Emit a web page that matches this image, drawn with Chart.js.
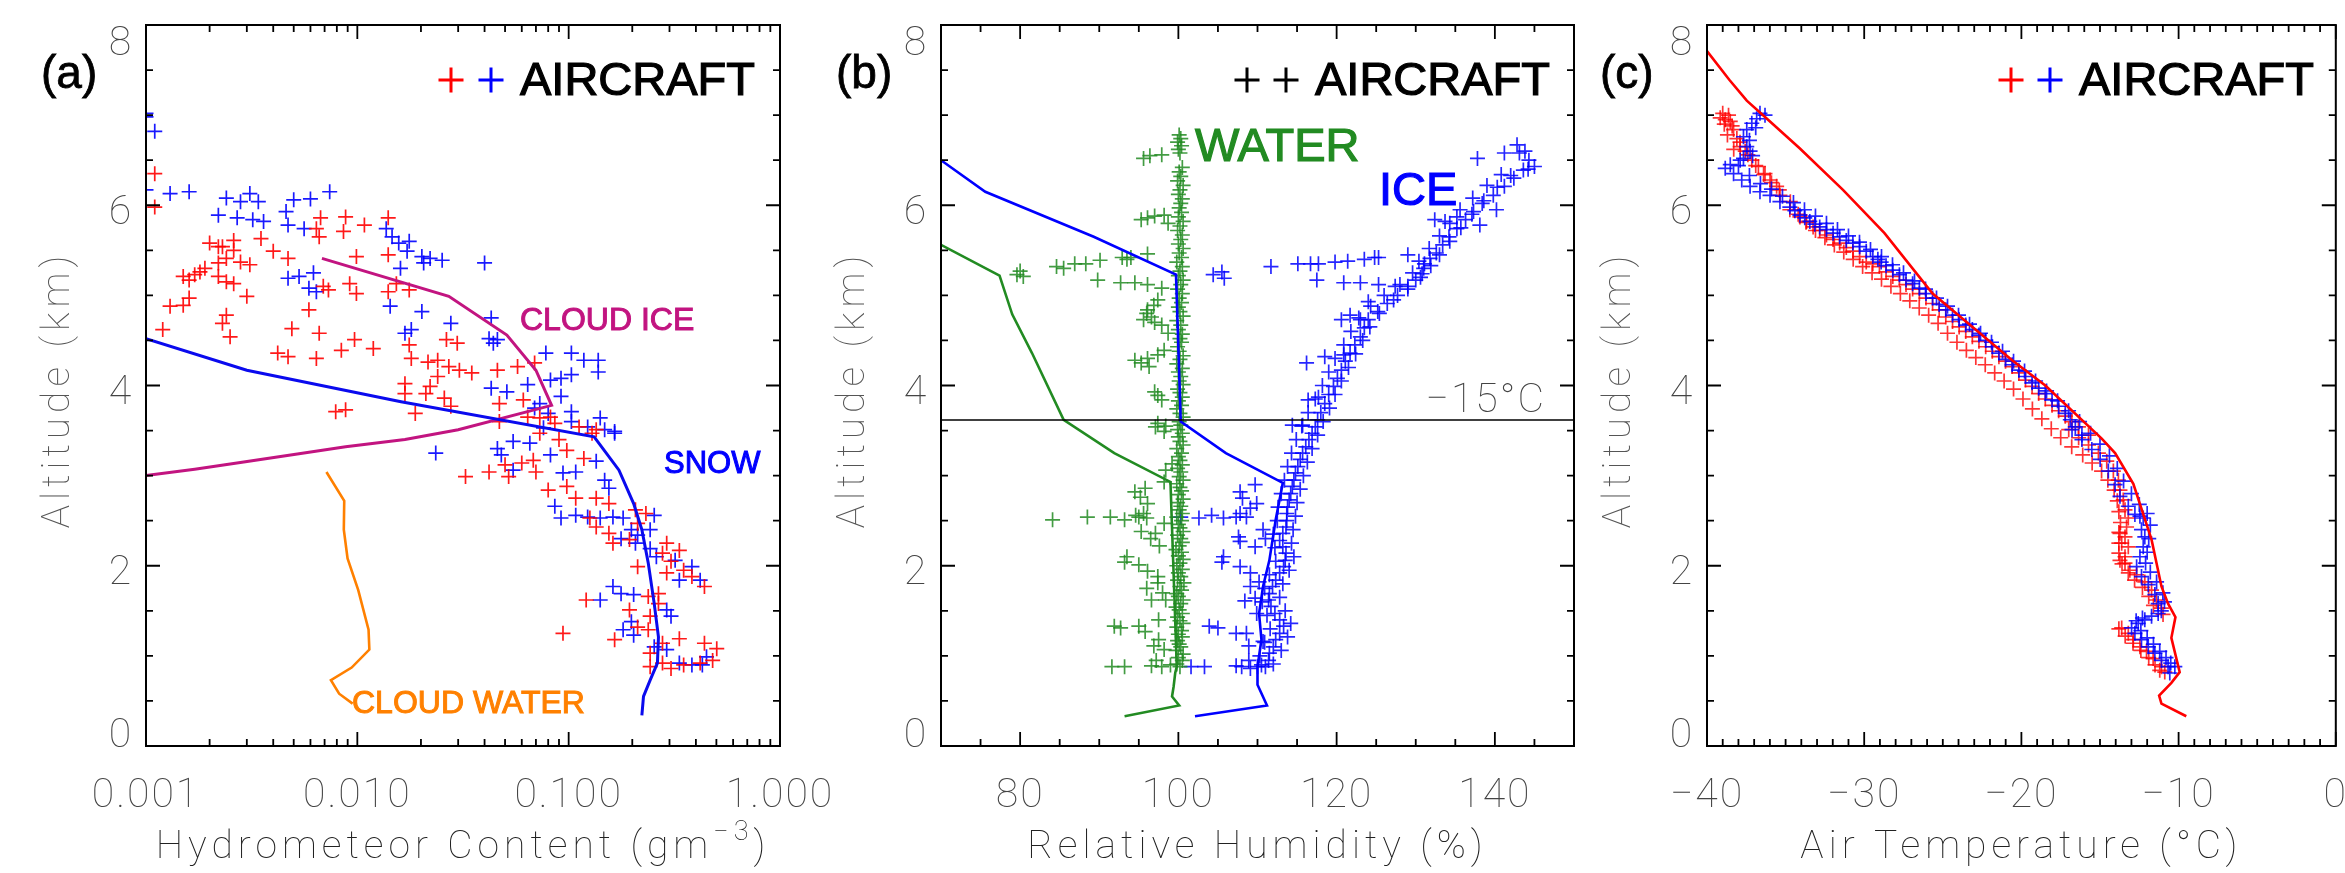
<!DOCTYPE html>
<html>
<head>
<meta charset="utf-8">
<script src="https://cdn.jsdelivr.net/npm/chart.js@4"></script>
<style>
  body { margin: 0; background: #fff; }
  #wrap { position: relative; width: 2345px; height: 873px; }
  #wrap canvas { position: absolute; left: 0; top: 0; }
</style>
</head>
<body>
<div id="wrap">
  <canvas id="pa" width="2345" height="873"></canvas>
  <canvas id="pb" width="2345" height="873"></canvas>
  <canvas id="pc" width="2345" height="873"></canvas>
</div>
<script>
// ---- panel (a): hydrometeor content (g m-3) vs altitude (km)
const aRedX = [0.0011,0.0011,0.0020,0.0022,0.0023,0.0026,0.0026,0.0035,0.0040,0.0047,
  0.0024,0.0028,0.0031,0.0022,0.0019,0.0018,0.0017,0.0015,0.0016,0.0022,
  0.0024,0.0026,0.0030,0.0016,0.0015,0.0013,0.0024,0.0023,0.0025,0.0012,
  0.0059,0.0049,0.0066,0.0097,0.0119,0.0084,0.0042,0.0047,0.0064,0.0069,
  0.0073,0.0092,0.0099,0.0067,0.0064,0.0066,0.0088,0.0086,0.0108,0.0140,
  0.0140,0.0099,0.0140,0.0176,0.0153,0.0176,0.0180,0.0216,0.0240,0.0264,
  0.0297,0.0271,0.0304,0.0240,0.0221,0.0168,0.0168,0.0211,0.0258,0.0277,
  0.0188,0.0079,0.0088,0.0348,0.046,0.0573,0.069,0.047,0.047,0.061,
  0.064,0.073,0.082,0.086,0.112,0.129,0.135,
  0.0325,0.042,0.052,0.070,0.080,0.098,0.108,0.118,0.098,0.090,
  0.068,0.060,0.135,0.155,0.126,0.135,0.155,0.162,0.194,0.207,
  0.212,0.232,0.291,0.278,0.334,0.305,0.350,0.383,0.439,0.291,
  0.266,0.212,0.238,0.266,0.121,0.194,0.243,0.212,0.238,0.094,
  0.165,0.334,0.439,0.502,0.278,0.243,0.278,0.243,0.419,0.480,
  0.350,0.305,0.073,0.050];
const aRedY = [6.35,5.98,5.58,5.54,5.54,5.61,5.50,5.63,5.49,5.41,
  5.41,5.37,5.34,5.36,5.30,5.26,5.23,5.21,5.17,5.21,
  5.15,5.13,4.99,4.97,4.89,4.88,4.78,4.69,4.54,4.62,
  4.84,4.63,4.58,4.51,4.41,4.39,4.36,4.32,4.30,5.10,
  5.06,5.13,5.02,5.86,5.74,5.65,5.87,5.71,5.78,5.86,
  5.45,5.43,5.04,5.06,5.13,4.45,4.30,4.26,4.28,4.51,
  4.47,4.21,4.17,4.10,3.99,4.02,3.91,3.91,3.86,3.77,
  3.69,3.71,3.73,4.14,4.17,4.21,4.25,3.80,3.60,3.84,
  3.65,3.64,3.65,3.58,3.54,3.47,3.51,
  2.99,3.04,2.99,3.04,2.84,2.88,2.75,3.19,3.28,3.40,
  3.17,3.14,2.75,2.69,2.53,2.43,2.36,2.25,2.29,2.62,
  2.47,2.58,2.25,2.14,2.17,2.05,1.95,1.88,1.77,1.92,
  1.69,1.99,1.66,1.58,1.62,1.51,1.44,1.32,1.29,1.25,
  1.18,1.19,1.14,1.08,1.14,1.03,0.92,0.88,0.92,0.95,
  0.90,0.86,3.47,3.12];
const aBlueX = [0.0010,0.0013,0.0016,0.0024,0.0028,0.0031,0.0034,0.0022,0.0027,0.0032,
  0.0036,0.0046,0.0047,0.0050,0.0060,0.0074,0.0056,0.0137,0.0146,0.0157,
  0.0176,0.0172,0.0202,0.0221,0.0252,0.0400,0.0160,0.0206,0.0047,0.0053,
  0.0062,0.0059,0.0064,0.0143,0.0202,0.0180,0.0168,0.0277,0.043,0.042,
  0.046,0.044,0.078,0.103,0.118,0.138,0.138,0.103,0.092,0.082,
  0.064,0.051,0.043,0.073,0.092,0.069,0.080,0.103,0.103,0.141,
  0.123,0.165,0.076,0.0010,0.0011,0.0010,
  0.0235,0.046,0.048,0.0546,0.0655,0.082,0.0546,0.094,0.108,0.135,
  0.148,0.155,0.086,0.092,0.108,0.123,0.141,0.162,0.181,0.198,
  0.212,0.243,0.254,0.177,0.207,0.243,0.260,0.319,0.383,0.419,
  0.334,0.162,0.177,0.203,0.141,0.291,0.305,0.198,0.181,0.203,
  0.254,0.291,0.334,0.383,0.429,0.449,0.148,0.165];
const aBlueY = [6.17,6.13,6.15,6.08,6.04,6.13,6.04,5.89,5.86,5.84,
  5.82,5.93,5.78,6.06,6.07,6.15,5.74,5.74,5.65,5.58,
  5.60,5.49,5.43,5.41,5.39,5.36,5.30,5.36,5.19,5.21,
  5.25,5.08,5.04,4.88,4.82,4.62,4.58,4.69,4.75,4.52,
  4.51,4.47,4.36,4.36,4.28,4.28,4.15,4.12,4.08,4.06,
  4.01,3.93,3.97,3.80,3.88,3.75,3.69,3.71,3.60,3.64,
  3.54,3.47,3.53,6.98,6.82,7.02,
  3.25,3.30,3.23,3.38,3.36,3.23,3.06,3.03,3.04,3.16,
  2.95,2.86,2.66,2.53,2.56,2.54,2.53,2.54,2.53,2.40,
  2.34,2.40,2.56,2.30,2.25,2.19,2.10,2.06,1.99,1.84,
  1.84,1.77,1.69,1.68,1.62,1.51,1.44,1.38,1.29,1.23,
  1.10,1.07,0.92,0.90,0.90,0.99,3.51,3.49];
const snowX = [0.001,0.0030,0.0161,0.132,0.173,0.203,0.222,0.238,0.254,0.266,0.263,0.243,0.226,0.222];
const snowY = [4.52,4.17,3.82,3.43,3.06,2.69,2.40,2.03,1.58,1.21,0.92,0.73,0.55,0.34];
const cloudIceX = [0.001,0.0017,0.0029,0.0052,0.0088,0.0168,0.030,0.083,0.070,0.051,0.0271,0.0068];
const cloudIceY = [3.00,3.07,3.15,3.24,3.32,3.40,3.51,3.78,4.17,4.56,4.99,5.41];
const cloudWaterX = [0.00714,0.00867,0.00863,0.00899,0.0101,0.0113,0.0114,0.0094,0.0075,0.0082,0.0095];
const cloudWaterY = [3.04,2.72,2.40,2.08,1.73,1.29,1.07,0.87,0.73,0.58,0.47];

// ---- panel (b): relative humidity (%) vs altitude
const bWatRH = [95.6,97.9,96.4,95.3,96.1,98.2,98.7,97.0,79.6,80.4,
  80.0,84.6,85.5,86.9,88.3,90.1,92.9,94.0,93.5,96.1,
  89.8,92.7,94.5,96.1,97.9,96.1,96.6,95.6,96.9,97.4,
  96.0,97.0,97.9,98.7,94.5,96.1,97.4,96.3,98.2,95.3,
  97.4,97.9,97.0,97.4,98.4,84.1,88.5,91.4,93.2,95.0,
  95.6,94.6,96.0,94.5,95.8,96.1,98.2,95.2,95.3,97.1,
  98.2,96.5,97.6,93.5,93.2,95.0,96.1,97.4,97.4,96.6,
  98.4,96.0,98.0,91.9,92.7,95.8,95.0,97.5,96.9,98.2,
  97.5,91.6,93.2,96.6,97.9,99.0,97.2,97.1,98.2,98.4,
  99.2];
const bWatAlt = [6.52,6.56,6.55,5.84,5.86,5.89,5.80,5.88,5.23,5.21,
  5.27,5.32,5.30,5.35,5.35,5.39,5.42,5.42,5.40,5.46,
  5.17,5.14,5.14,5.12,5.08,4.84,4.76,4.73,4.89,4.95,
  4.80,4.70,4.67,4.58,4.28,4.30,4.34,4.21,4.39,4.25,
  3.89,3.84,3.93,3.58,3.55,2.51,2.54,2.54,2.51,2.54,
  2.58,2.56,2.53,2.82,2.86,2.69,2.93,2.76,2.38,2.36,
  2.47,2.30,2.22,2.10,2.04,2.01,1.94,1.88,1.81,1.62,
  1.62,1.75,1.70,1.33,1.31,1.27,1.33,1.40,1.11,1.07,
  1.18,0.88,0.88,0.89,0.88,0.90,0.95,3.54,3.49,3.06,
  3.13];
// dense stack of water readings sitting at saturation
const bColRH = [100.2,99.8,100.5,100.0,100.6,99.7,100.3,100.1,99.9,100.5,
  100.0,100.4,99.8,100.6,100.2,99.9,100.5,100.1,99.7,100.3,
  100.6,100.0,99.8,100.4,100.2,100.7,99.9,100.3,100.0,100.5,
  99.8,100.2,100.6,100.0,100.4,99.7,100.1,100.5,100.3,99.9,
  100.6,100.2,100.0,100.4,99.8,100.5,100.1,100.3,99.9,100.6,
  100.0,100.4,100.2,99.8,100.6,100.1,100.3,99.9,100.5,100.2,
  100.0,100.4,99.8,100.6,100.2,100.0,100.5,99.9,100.3,100.1,
  100.6,100.2,99.8,100.4,100.0,100.5,100.2,99.9,100.6,100.1,
  100.3,100.0,100.5,99.8,100.2,100.6,100.1,99.9,100.4,100.2,
  100.5,100.0,100.3,99.8,100.6,100.2,100.0,100.4,100.1,100.5,
  99.9,100.3,100.6,100.0,100.2,100.5,99.8,100.4,100.1,100.6,
  100.0,100.3,100.5,99.9,100.2,100.6,100.0,100.4,100.1,100.3,
  100.5,100.0,100.2,100.6,99.9,100.3,100.1,100.5,100.2,100.0,
  100.4,99.9,100.3,100.1];
const bColAlt = [0.88,0.91,0.95,0.98,1.02,1.06,1.10,1.13,1.17,1.21,
  1.24,1.28,1.32,1.36,1.39,1.43,1.47,1.51,1.54,1.58,
  1.62,1.66,1.69,1.73,1.77,1.81,1.84,1.88,1.92,1.96,
  2.00,2.03,2.07,2.11,2.15,2.18,2.22,2.26,2.30,2.34,
  2.38,2.42,2.46,2.50,2.54,2.58,2.62,2.66,2.70,2.74,
  2.79,2.83,2.87,2.91,2.95,2.99,3.04,3.08,3.12,3.17,
  3.21,3.25,3.30,3.34,3.38,3.43,3.47,3.51,3.56,3.60,
  3.65,3.69,3.74,3.78,3.83,3.87,3.92,3.96,4.01,4.05,
  4.10,4.15,4.19,4.24,4.29,4.33,4.38,4.43,4.48,4.52,
  4.57,4.62,4.67,4.72,4.77,4.82,4.87,4.92,4.97,5.02,
  5.07,5.12,5.17,5.22,5.27,5.32,5.37,5.42,5.47,5.52,
  5.57,5.62,5.67,5.72,5.77,5.82,5.87,5.92,5.97,6.02,
  6.07,6.12,6.17,6.22,6.27,6.32,6.37,6.42,6.58,6.62,
  6.66,6.70,6.74,6.78];
const bIceRH = [100.3,102.6,104.2,105.7,107.3,107.8,108.6,107.8,109.7,108.1,
  109.9,109.1,107.6,107.8,110.7,109.7,111.0,105.7,105.5,107.8,
  109.1,110.2,109.1,108.4,109.7,109.9,103.9,105.0,107.3,108.6,
  108.9,110.7,108.9,101.6,103.3,107.3,109.1,108.0,110.0,110.5,
  132.4,133.7,135.2,138.1,140.2,137.8,141.2,142.8,143.1,143.8,
  144.3,111.7,115.1,116.7,117.7,119.8,121.4,123.5,124.8,125.3,
  129.0,117.5,120.9,123.0,125.3,127.4,104.4,105.5,105.8,116.2,
  118.5,120.9,123.0,121.7,120.6,124.0,114.4,115.7,116.4,117.7];
const bIceAlt = [2.54,2.53,2.56,2.53,2.54,2.58,2.54,2.82,2.90,2.75,
  2.69,2.64,2.32,2.27,2.40,2.21,2.30,2.10,2.04,1.99,
  1.92,1.82,1.77,1.61,1.64,1.47,1.33,1.31,1.25,1.25,
  1.11,1.16,0.95,0.88,0.88,0.89,0.86,0.88,0.88,0.90,
  5.84,5.82,5.87,5.78,5.95,6.52,6.58,6.67,6.58,6.60,
  6.50,5.32,5.35,5.35,5.35,5.37,5.38,5.40,5.42,5.42,
  5.45,5.17,5.14,5.14,5.12,5.10,5.23,5.26,5.19,4.25,
  4.32,4.34,4.73,4.78,4.73,4.93,3.56,3.56,3.84,3.87];
// the main ice-saturation band: centre, right edge, left edge
const bBandRH = [111.0,111.4,111.5,112.0,112.3,112.8,113.3,112.8,112.2,111.7,
  111.4,111.5,111.9,112.3,112.8,113.3,113.5,113.6,113.2,112.8,
  113.2,113.6,113.7,113.7,113.8,114.0,114.2,114.4,114.6,114.8,
  115.1,115.4,115.7,116.1,116.5,116.9,117.3,117.6,118.0,118.5,
  119.0,119.6,120.1,120.6,121.1,121.7,122.3,123.0,123.5,124.0,
  125.2,126.4,127.7,129.0,130.0,130.8,131.0,131.1,131.8,132.6,
  133.4,134.2,135.2,136.3,137.3,138.4,139.8,141.2,142.4,143.6,145.0,
  112.0,113.0,113.8,114.2,113.5,112.8,113.2,114.0,114.6,114.3,
  114.5,114.8,115.0,115.4,115.8,116.3,116.9,117.6,118.3,119.1,
  119.8,120.6,121.5,122.4,123.3,124.2,125.4,127.2,129.0,130.6,
  131.9,133.0,134.3,135.7,137.1,138.6,140.3,142.0,144.2,
  110.3,110.9,111.6,111.2,110.6,110.9,111.5,112.3,112.2,112.0,
  112.5,112.6,113.0,113.4,113.8,114.3,114.9,115.6,116.4,117.3,
  118.2,119.0,119.8,120.9,121.8,122.8,124.3,126.0,128.0,129.6,
  130.4,131.7,133.0,134.3,135.6,137.2,139.0,140.8];
const bBandAlt = [0.88,0.95,1.03,1.10,1.18,1.25,1.33,1.40,1.47,1.55,
  1.62,1.69,1.77,1.84,1.92,1.99,2.06,2.14,2.21,2.28,
  2.36,2.43,2.50,2.58,2.65,2.73,2.80,2.88,2.95,3.03,
  3.10,3.18,3.25,3.32,3.40,3.47,3.54,3.62,3.70,3.80,
  3.90,3.99,4.08,4.17,4.27,4.36,4.45,4.54,4.64,4.73,
  4.82,4.91,5.00,5.10,5.17,5.24,5.30,5.35,5.41,5.47,
  5.56,5.65,5.74,5.84,5.93,6.02,6.11,6.21,6.30,6.39,6.43,
  0.91,1.06,1.21,1.36,1.50,1.65,1.80,1.95,2.10,2.25,
  2.40,2.55,2.70,2.85,3.00,3.15,3.30,3.45,3.60,3.75,
  3.90,4.05,4.20,4.35,4.50,4.65,4.80,4.95,5.07,5.20,
  5.33,5.45,5.60,5.75,5.90,6.05,6.20,6.33,6.40,
  1.00,1.15,1.30,1.45,1.60,1.75,1.90,2.05,2.20,2.35,
  2.50,2.65,2.80,2.95,3.10,3.25,3.40,3.55,3.70,3.85,
  4.00,4.15,4.30,4.45,4.60,4.75,4.88,5.00,5.12,5.25,
  5.38,5.52,5.66,5.80,5.95,6.08,6.22,6.34];
const bModelWatRH = [70,77.4,79.0,81.5,85.5,91.9,99.0,99.8,99.6,99.4,99.2,100.1,93.2];
const bModelWatAlt = [5.56,5.22,4.79,4.36,3.62,3.25,2.93,0.88,0.81,0.66,0.55,0.45,0.33];
const bModelIceRH = [70,75.6,89.3,99.7,100.3,106.0,113.2,112.3,111.5,110.7,110.2,110.5,110.0,110.0,111.2,102.1];
const bModelIceAlt = [6.50,6.15,5.65,5.23,3.60,3.25,2.92,2.51,2.06,1.77,1.47,1.18,0.88,0.68,0.45,0.33];
const minus15RH = [70,150];
const minus15Alt = [3.617,3.617];

// ---- panel (c): air temperature (C) vs altitude
const cRedT = [-39.16,-38.84,-38.52,-38.63,-38.31,-38.10,-37.89,-37.57,-37.15,-36.73,
  -36.31,-35.99,-35.57,-35.36,-34.73,-34.09,-33.25,-32.40,-31.56,-30.72,
  -29.87,-29.03,-28.18,-27.34,-26.49,-25.65,-24.81,-23.96,-23.12,-22.27,
  -21.43,-20.59,-19.74,-18.90,-18.05,-17.21,-16.37,-15.73,
  -33.67,-32.83,-31.98,-31.14,-30.29,-29.45,-28.61,-27.76,-26.92,-26.07,
  -25.23,-24.38,-23.54,-22.70,-21.85,-21.01,-20.16,-19.32,-18.48,-17.63,-16.79,
  -16.99,-16.36,-15.73,-15.10,-14.57,-14.15,-13.83,-13.73,-13.52,-13.41,
  -13.20,-13.31,-13.41,-13.20,-13.41,-13.41,-13.10,-12.67,-12.15,-11.72,
  -11.41,-11.09,-10.99,-13.62,-13.20,-12.88,-12.46,-12.04,-11.62,-11.09,
  -10.88,-13.73,-13.73,-13.62];
const cRedA = [6.97,6.95,6.93,7.00,6.84,6.74,6.65,6.60,6.50,6.43,
  6.35,6.28,6.21,6.11,5.95,5.87,5.76,5.67,5.58,5.49,
  5.37,5.32,5.21,5.12,5.02,4.91,4.76,4.65,4.54,4.43,
  4.32,4.21,4.06,3.91,3.78,3.66,3.54,3.45,
  5.82,5.72,5.62,5.53,5.43,5.35,5.26,5.17,5.07,4.97,
  4.84,4.71,4.60,4.49,4.38,4.27,4.14,3.99,3.85,3.72,3.60,
  3.51,3.42,3.34,3.25,3.16,3.05,2.95,2.84,2.73,2.62,
  2.53,2.43,2.32,2.21,2.10,2.03,1.95,1.90,1.82,1.73,
  1.62,1.53,1.46,1.31,1.25,1.18,1.10,1.05,0.97,0.88,
  0.82,2.36,2.06,2.25];
// lower-left edge of the red band
const cRedEdgeT = [-39.0,-38.9,-38.7,-38.3,
  -38.4,-37.9,-37.4,-36.9,-36.4,-35.9,
  -35.4,-34.7,-34.2,-33.7,-33.1,-32.5,-31.9,-31.3,-30.7,-30.1,
  -29.5,-28.9,-28.3,-27.7,-27.1,-26.5,-25.9,-25.3,-24.7,-24.1,
  -23.5,-22.9,-22.3,-21.7,-21.1,-20.5,-19.9,-19.3,-18.7,-18.1,
  -17.5,-16.8,-16.1,-15.5,-14.9,-14.5,-14.1,-13.9,-13.8,-13.7,
  -13.8,-13.8,-13.8,-13.6,-13.2,-12.8,-12.3,-11.9,-11.6,-13.8,
  -13.4,-12.9,-12.4,-11.9,-11.5,-11.2];
const cRedEdgeA = [7.02,6.90,6.78,6.62,6.88,6.70,6.56,6.44,6.34,6.25,
  6.17,6.04,5.90,5.81,5.72,5.64,5.56,5.48,5.40,5.32,
  5.25,5.18,5.10,5.02,4.94,4.86,4.78,4.69,4.58,4.48,
  4.39,4.31,4.23,4.14,4.05,3.96,3.85,3.74,3.63,3.52,
  3.42,3.32,3.23,3.14,3.05,2.95,2.84,2.72,2.60,2.48,
  2.37,2.25,2.14,2.02,1.92,1.84,1.76,1.66,1.56,1.30,
  1.22,1.14,1.06,0.98,0.90,0.84];
const cBlueT = [-36.63,-36.31,-36.84,-37.15,-37.47,-37.68,-37.47,-37.26,-37.68,-37.89,
  -38.84,-38.52,-38.31,-37.79,-37.26,-36.63,-35.99,-35.36,-34.73,-34.09,
  -33.46,-32.83,-31.98,-31.14,-30.29,-29.45,-28.92,-28.18,-27.34,-26.49,
  -25.65,-24.81,-23.96,-23.12,-22.27,-21.43,-20.59,-19.74,-18.90,-18.05,
  -17.21,-16.57,-16.15,
  -34.41,-33.78,-33.14,-32.40,-31.56,-30.72,-29.87,-29.13,-28.61,-27.76,
  -26.92,-26.07,-25.23,-24.38,-23.54,-22.70,-21.85,-21.01,-20.16,-19.32,
  -18.48,-17.63,-16.89,
  -16.78,-16.15,-15.52,-14.99,-14.47,-14.04,-13.73,-13.20,-12.78,-12.46,
  -12.25,-12.36,-12.15,-12.25,-12.46,-12.67,-12.36,-11.93,-11.51,-11.30,
  -11.30,-11.72,-12.15,-12.57,-12.99,-12.78,-12.36,-11.93,-11.51,-11.09,
  -10.67,-10.24,-10.56];
const cBlueA = [7.02,7.00,6.96,6.91,6.84,6.76,6.65,6.60,6.52,6.50,
  6.41,6.45,6.35,6.28,6.21,6.15,6.11,6.04,5.98,5.89,
  5.82,5.76,5.69,5.61,5.54,5.43,5.37,5.28,5.17,5.08,
  4.97,4.84,4.73,4.62,4.50,4.36,4.23,4.10,3.97,3.84,
  3.69,3.54,3.45,
  5.94,5.86,5.79,5.73,5.65,5.58,5.49,5.40,5.33,5.23,
  5.13,5.02,4.90,4.78,4.67,4.56,4.43,4.29,4.17,4.03,
  3.91,3.77,3.62,
  3.51,3.40,3.29,3.18,3.05,2.90,2.77,2.66,2.57,2.55,
  2.53,2.40,2.32,2.21,2.10,1.99,1.88,1.79,1.68,1.58,
  1.47,1.44,1.40,1.36,1.31,1.25,1.18,1.10,1.03,0.95,
  0.88,0.88,0.81];
// upper-right edge of the blue band
const cBlueEdgeT = [-36.9,-37.3,-37.1,-38.0,-37.3,-36.6,-35.9,-35.2,-34.5,-33.8,
  -33.1,-32.4,-31.7,-31.0,-30.3,-29.6,-28.9,-28.2,-27.5,-26.8,
  -26.1,-25.4,-24.7,-24.0,-23.3,-22.6,-21.9,-21.2,-20.5,-19.8,
  -19.1,-18.4,-17.7,-17.0,-16.3,-15.6,-15.0,-14.4,-13.9,-13.5,
  -13.0,-12.5,-12.0,-11.8,-11.9,-12.0,-12.1,-11.8,-11.4,-11.0,
  -10.9,-11.1,-12.3,-12.7,-12.4,-12.0,-11.6,-11.2,-10.8,-10.5];
const cBlueEdgeA = [6.86,6.72,6.55,6.44,6.33,6.24,6.18,6.10,6.03,5.95,
  5.88,5.80,5.73,5.66,5.59,5.51,5.43,5.34,5.25,5.16,
  5.07,4.97,4.88,4.78,4.68,4.58,4.48,4.38,4.27,4.16,
  4.05,3.94,3.83,3.72,3.60,3.47,3.35,3.22,3.08,2.94,
  2.80,2.68,2.58,2.45,2.30,2.15,2.03,1.93,1.82,1.70,
  1.60,1.50,1.42,1.39,1.28,1.20,1.13,1.05,0.98,0.92];
const cModelT = [-40,-38.57,-37.47,-36.31,-34.09,-31.35,-28.71,-25.65,-20.59,-18.48,-14.89,-14.04,-12.88,-11.72,-11.09,-10.67,-10.20,-10.46,-9.93,-10.46,-11.24,-11.09,-9.51];
const cModelA = [7.71,7.39,7.16,6.98,6.63,6.17,5.69,5.02,4.28,4.00,3.41,3.25,2.91,2.29,1.77,1.58,1.43,1.20,0.82,0.70,0.56,0.47,0.33];

// ---- axis ticks and labels
const altMajor = [0, 2, 4, 6, 8];
const altLabels = ['0', '2', '4', '6', '8'];
const hcMajor = [0.001, 0.01, 0.1, 1];
const hcLabels = ['0.001', '0.010', '0.100', '1.000'];
const rhMajor = [80, 100, 120, 140];
const rhLabels = ['80', '100', '120', '140'];
const tMajor = [-40, -30, -20, -10, 0];
const tLabels = ['\u221240', '\u221230', '\u221220', '\u221210', '0'];

const RED = '#ff0000', BLUE = '#0000ff', GREEN = '#228b22';
const THIN = '100 41px Roboto, "DejaVu Sans", sans-serif';
const TITLE = '100 39px Roboto, "DejaVu Sans", sans-serif';
const SUP = '100 27px Roboto, "DejaVu Sans", sans-serif';
const HELV = '"Liberation Sans", Arial, sans-serif';

function pts(xs, ys) { return xs.map((v, i) => ({ x: v, y: ys[i] })); }

function marks(label, xs, ys, color) {
  return { label, data: pts(xs, ys), showLine: false, pointStyle: 'cross',
    pointRadius: 7.5, pointHoverRadius: 7.5, pointBorderWidth: 1.7,
    borderColor: color, pointBorderColor: color, backgroundColor: color };
}
function curve(label, xs, ys, color, w) {
  return { label, data: pts(xs, ys), showLine: true, pointRadius: 0, borderColor: color,
    borderWidth: w || 3, fill: false, tension: 0 };
}

function text(ctx, s, x, y, font, color, align, sp, heavy) {
  ctx.font = font; ctx.fillStyle = color; ctx.textAlign = align || 'left';
  ctx.textBaseline = 'alphabetic';
  ctx.letterSpacing = (sp || 0) + 'px';
  ctx.fillText(s, x, y);
  if (heavy) { ctx.strokeStyle = color; ctx.lineWidth = heavy; ctx.strokeText(s, x, y); }
}

function cross(ctx, x, y, r, color) {
  ctx.strokeStyle = color; ctx.lineWidth = 3;
  ctx.beginPath();
  ctx.moveTo(x - r, y); ctx.lineTo(x + r, y);
  ctx.moveTo(x, y - r); ctx.lineTo(x, y + r);
  ctx.stroke();
}

// IDL style frame: ticks inside on all four sides, labels, titles, annotations
const deco = {
  id: 'deco',
  afterDatasetsDraw(chart, args, o) {
    const ctx = chart.ctx, a = chart.chartArea;
    const sx = chart.scales.x, sy = chart.scales.y;
    ctx.save();
    ctx.strokeStyle = '#000';
    ctx.lineWidth = 1.8;
    ctx.beginPath();
    const xt = (v, len) => {
      const p = sx.getPixelForValue(v);
      ctx.moveTo(p, a.bottom); ctx.lineTo(p, a.bottom - len);
      ctx.moveTo(p, a.top); ctx.lineTo(p, a.top + len);
    };
    const yt = (v, len) => {
      const p = sy.getPixelForValue(v);
      ctx.moveTo(a.left, p); ctx.lineTo(a.left + len, p);
      ctx.moveTo(a.right, p); ctx.lineTo(a.right - len, p);
    };
    o.xMinor.forEach(v => xt(v, 7));
    o.xMajor.forEach(v => xt(v, 14));
    for (let v = 0.5; v < 8; v += 0.5) yt(v, altMajor.includes(v) ? 14 : 7);
    ctx.stroke();
    ctx.lineWidth = 2;
    ctx.strokeRect(a.left, a.top, a.right - a.left, a.bottom - a.top);

    // tick labels
    o.xMajor.forEach((v, i) => text(ctx, o.xLabels[i], sx.getPixelForValue(v), 807, THIN, '#444', 'center', 2));
    altMajor.forEach((v, i) => {
      let cy = sy.getPixelForValue(v) + 4;
      cy = Math.min(Math.max(cy, a.top + 15), a.bottom - 14);
      text(ctx, altLabels[i], a.left - 26, cy + 14.5, THIN, '#444', 'center', 0);
    });

    // y title
    ctx.save();
    ctx.translate(a.left - 77, (a.top + a.bottom) / 2 + 4);
    ctx.rotate(-Math.PI / 2);
    text(ctx, 'Altitude (km)', 0, 0, TITLE, '#555', 'center', 5);
    ctx.restore();

    // x title, with optional superscript
    ctx.letterSpacing = '5px';
    const parts = o.xTitle;
    let total = 0;
    parts.forEach(p => { ctx.font = p[1] ? SUP : TITLE; total += ctx.measureText(p[0]).width; });
    let x0 = (a.left + a.right) / 2 - total / 2;
    parts.forEach(p => {
      const f = p[1] ? SUP : TITLE;
      ctx.font = f;
      const w = ctx.measureText(p[0]).width;
      text(ctx, p[0], x0, p[1] ? 840 : 858, f, '#222', 'left', 5);
      x0 += w;
    });

    // panel letter
    text(ctx, o.letter, o.letterX, 88, '46px ' + HELV, '#000', 'left', 0, 0.8);

    // aircraft key
    cross(ctx, o.keyX[0], 80, 12.5, o.keyColors[0]);
    cross(ctx, o.keyX[1], 80, 12.5, o.keyColors[1]);
    text(ctx, 'AIRCRAFT', o.keyX[1] + 29, 95, '47px ' + HELV, '#000', 'left', 0, 1.2);

    // annotations
    (o.notes || []).forEach(n => text(ctx, n.t, n.x, n.y, n.f, n.c, n.al || 'left', n.sp || 0, n.h || 0));
    ctx.restore();
  }
};

function decadeMinors() {
  const out = [];
  [0.001, 0.01, 0.1].forEach(d => { for (let k = 2; k <= 9; k++) out.push(d * k); });
  return out;
}
function stepList(from, to, step, skip) {
  const out = [];
  for (let v = from; v <= to + 1e-9; v += step) if (!skip.includes(Math.round(v))) out.push(v);
  return out;
}

function makeChart(id, datasets, xScale, pad, deco_opts) {
  return new Chart(document.getElementById(id), {
    type: 'scatter',
    data: { datasets },
    options: {
      responsive: false, animation: false, devicePixelRatio: 1,
      layout: { padding: pad },
      scales: {
        x: Object.assign({ display: false }, xScale),
        y: { type: 'linear', min: 0, max: 8, display: false }
      },
      plugins: { legend: { display: false }, tooltip: { enabled: false }, deco: deco_opts }
    },
    plugins: [deco]
  });
}

makeChart('pa', [
  curve('Snow', snowX, snowY, '#0a0aee', 3),
  curve('Cloud ice', cloudIceX, cloudIceY, '#c21480', 3),
  curve('Cloud water', cloudWaterX, cloudWaterY, '#ff8000', 2.6),
  marks('Aircraft (red)', aRedX, aRedY, 'rgba(255,0,0,0.9)'),
  marks('Aircraft (blue)', aBlueX, aBlueY, 'rgba(0,0,255,0.9)')
], { type: 'logarithmic', min: 0.001, max: 1 },
  { left: 146, right: 2345 - 780, top: 25, bottom: 873 - 746 },
  { xMajor: hcMajor, xLabels: hcLabels, xMinor: decadeMinors(),
    xTitle: [['Hydrometeor Content (gm', 0], ['\u22123', 1], [')', 0]],
    letter: '(a)', letterX: 41, keyX: [451, 491], keyColors: [RED, BLUE],
    notes: [
      { t: 'CLOUD ICE', x: 520, y: 330, f: '32px ' + HELV, c: '#c21480', h: 1 },
      { t: 'SNOW', x: 664, y: 473, f: '31px ' + HELV, c: BLUE, h: 1 },
      { t: 'CLOUD WATER', x: 352, y: 713, f: '32px ' + HELV, c: '#ff8000', h: 1 }
    ] });

makeChart('pb', [
  curve('-15 C level', minus15RH, minus15Alt, '#000', 1.6),
  curve('Model ice RH', bModelIceRH, bModelIceAlt, BLUE, 2.6),
  curve('Model water RH', bModelWatRH, bModelWatAlt, GREEN, 2.6),
  marks('Aircraft water', bWatRH.concat(bColRH), bWatAlt.concat(bColAlt), 'rgba(34,139,34,0.85)'),
  marks('Aircraft ice', bIceRH.concat(bBandRH), bIceAlt.concat(bBandAlt), 'rgba(0,0,255,0.85)')
], { type: 'linear', min: 70, max: 150 },
  { left: 941, right: 2345 - 1574, top: 25, bottom: 873 - 746 },
  { xMajor: rhMajor, xLabels: rhLabels, xMinor: stepList(75, 145, 5, rhMajor),
    xTitle: [['Relative Humidity (%)', 0]],
    letter: '(b)', letterX: 836, keyX: [1247, 1286], keyColors: ['#000', '#000'],
    notes: [
      { t: 'WATER', x: 1195, y: 161, f: '47px ' + HELV, c: GREEN, h: 1.2 },
      { t: 'ICE', x: 1379, y: 205, f: '47px ' + HELV, c: BLUE, h: 1.2 },
      { t: '\u221215\u00b0C', x: 1546, y: 412, f: THIN, c: '#444', al: 'right', sp: 2 }
    ] });

makeChart('pc', [
  curve('Model temperature', cModelT, cModelA, RED, 2.6),
  marks('Aircraft (blue)', cBlueT.concat(cBlueEdgeT), cBlueA.concat(cBlueEdgeA), 'rgba(0,0,255,0.85)'),
  marks('Aircraft (red)', cRedT.concat(cRedEdgeT), cRedA.concat(cRedEdgeA), 'rgba(255,0,0,0.8)')
], { type: 'linear', min: -40, max: 0 },
  { left: 1707, right: 2345 - 2338, top: 25, bottom: 873 - 746 },
  { xMajor: tMajor, xLabels: tLabels, xMinor: stepList(-39, -1, 1, tMajor),
    xTitle: [['Air Temperature (\u00b0C)', 0]],
    letter: '(c)', letterX: 1600, keyX: [2011, 2050], keyColors: [RED, BLUE] });
</script>
</body>
</html>
